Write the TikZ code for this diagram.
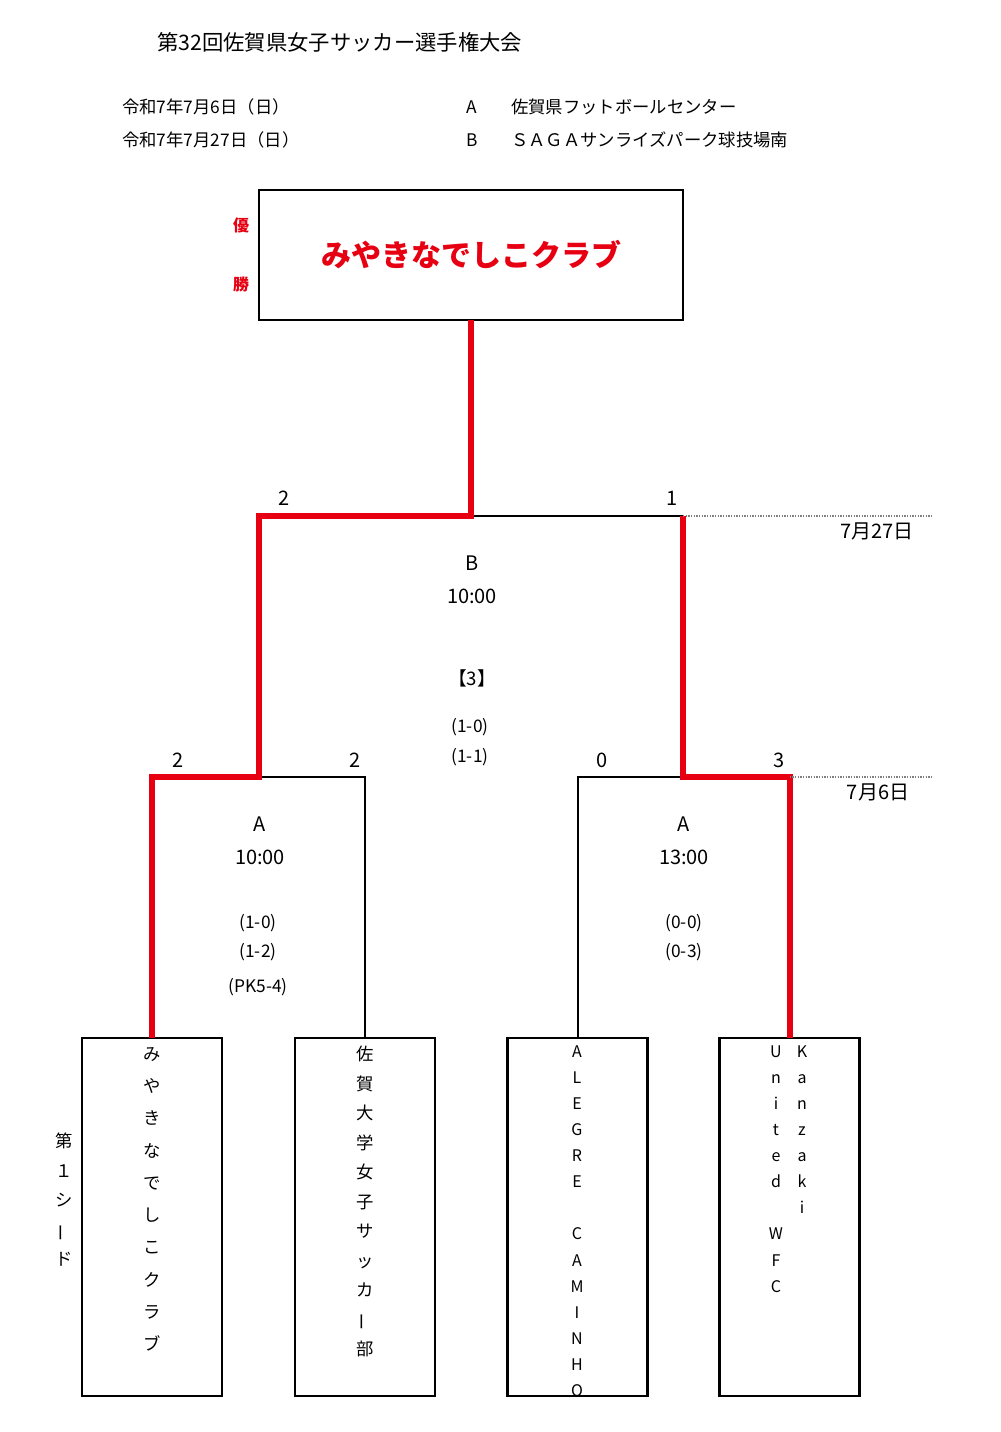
\documentclass[tikz,border=0pt]{standalone}
\usepackage{fontspec}
\setmainfont{Noto Sans CJK JP}
\usepackage{xcolor}
\usetikzlibrary{positioning}
\definecolor{champred}{RGB}{230,0,18}

\begin{document}
\begin{tikzpicture}[x=0.75pt, y=-0.75pt, node distance=24.75pt, on grid,
	winline/.style={draw=champred, line width=4.5pt},
	loseline/.style={draw=black, line width=1.5pt},
	dayline/.style={draw=gray, densely dotted, line width=1pt},
	teambox/.style={draw, line width=2pt, minimum width=105pt, minimum height=268.5pt, inner sep=0pt, outer sep=0pt},
	teamtext/.style={anchor=north, align=center, inner sep=0pt, font=\fontsize{13}{#1}\selectfont},
	score/.style={font=\fontsize{15}{18}\selectfont},
	venue/.style={font=\fontsize{15}{18}\selectfont},
	result/.style={font=\fontsize{13}{16}\selectfont},
	info/.style={anchor=west, inner sep=0pt, font=\fontsize{13}{16}\selectfont}]
	\fill[white] (0,0) rectangle (1000,1432);
	\useasboundingbox (0,0) rectangle (1000,1432);
	
	% header
	\node[anchor=west, inner sep=0pt, font=\fontsize{16}{20}\selectfont] (title) at (157,42) {第32回佐賀県女子サッカー選手権大会};
	\node[info] (day1) at (122,107) {令和7年7月6日（日）};
	\node[info] (day2) at (122,140) {令和7年7月27日（日）};
	\node[info, anchor=center] (siteA) at (472,107) {A};
	\node[info, anchor=center] (siteB) at (472,140) {B};
	\node[info] (nameA) at (511,107) {佐賀県フットボールセンター};
	\node[info] (nameB) at (511,140) {ＳＡＧＡサンライズパーク球技場南};
	
	% champion
	\node[draw, line width=2pt, minimum width=318pt, minimum height=97.5pt, outer sep=0pt, text=champred, font=\fontsize{22.5}{26}\selectfont\bfseries] (champ) at (471,255) {みやきなでしこクラブ};
	\node[text=champred, font=\fontsize{12}{14}\selectfont\bfseries] (yu) at (241,225) {優};
	\node[text=champred, font=\fontsize{12}{14}\selectfont\bfseries] (sho) at (241,284) {勝};
	
	% teams
	\node[teambox] (t1) at (152,1217) {};
	\node[teambox] (t2) at (365,1217) {};
	\node[teambox] (t3) at (577.5,1217) {};
	\node[teambox] (t4) at (789.5,1217) {};
	\node[teamtext=24.2pt] (n1) at (152,1047) {み\\や\\き\\な\\で\\し\\こ\\ク\\ラ\\ブ};
	\node[teamtext=22.1pt] (n2) at (365,1046) {佐\\賀\\大\\学\\女\\子\\サ\\ッ\\カ\\\rotatebox[origin=c]{90}{ー}\\部};
	\node[teamtext=19.6pt, font=\fontsize{12}{19.6pt}\selectfont] (n3) at (577,1045) {A\\L\\E\\G\\R\\E\\\mbox{}\\C\\A\\M\\I\\N\\H\\O};
	\node[teamtext=19.6pt, font=\fontsize{12}{19.6pt}\selectfont] (n4a) at (776,1045) {U\\n\\i\\t\\e\\d\\\mbox{}\\W\\F\\C};
	\node[teamtext=19.6pt, font=\fontsize{12}{19.6pt}\selectfont] (n4b) at (802,1045) {K\\a\\n\\z\\a\\k\\i};
	\node[teamtext=22.1pt] (seed) at (64,1133) {第\\１\\シ\\\rotatebox[origin=c]{90}{ー}\\ド};
	
	% bracket
	\coordinate (final) at (471,516);
	\coordinate (finalR) at (683,516);
	\coordinate (semiL) at (259,777);
	\coordinate (semiR) at (683,777);
	\draw[loseline] (final) -- (finalR);
	\draw[loseline] (semiL) -| (t2.north);
	\draw[loseline] (semiR) -| (t3.north);
	\draw[winline] (champ.south) -- (final) -| (semiL) -| (t1.north);
	\draw[winline] (finalR) -- (semiR) -| (t4.north);
	\coordinate (edgeF) at (932,516);
	\coordinate (edgeS) at (932,777);
	\draw[dayline] (finalR) -- (edgeF);
	\draw[dayline] (semiR -| t4.north) -- (edgeS);
	\node[venue] (dayF) at (877,531) {7月27日};
	\node[venue] (dayS) at (878,792) {7月6日};
	
	% scores
	\node[score] (sF1) at (284,498) {2};
	\node[score] (sF2) at (672,498) {1};
	\node[score] (sL1) at (178,760) {2};
	\node[score] (sL2) at (355,760) {2};
	\node[score] (sR1) at (602,760) {0};
	\node[score] (sR2) at (779,760) {3};
	
	% final
	\node[venue] (vF) at (472,563) {B};
	\node[venue, below=of vF] (tF) {10:00};
	\node[venue, font=\fontsize{14}{16}\selectfont] (gF) at (472,678) {【3】};
	\node[result] (rF1) at (470,727) {(1-0)};
	\node[result, below=22.5pt of rF1] (rF2) {(1-1)};
	
	% semifinal left
	\node[venue] (vL) at (260,824) {A};
	\node[venue, below=of vL] (tL) {10:00};
	\node[result] (rL1) at (258,923) {(1-0)};
	\node[result, below=21.75pt of rL1] (rL2) {(1-2)};
	\node[result, below=26.25pt of rL2] (rL3) {(PK5-4)};
	
	% semifinal right
	\node[venue] (vR) at (684,824) {A};
	\node[venue, below=of vR] (tR) {13:00};
	\node[result] (rR1) at (684,923) {(0-0)};
	\node[result, below=21.75pt of rR1] (rR2) {(0-3)};
\end{tikzpicture}
\end{document}
